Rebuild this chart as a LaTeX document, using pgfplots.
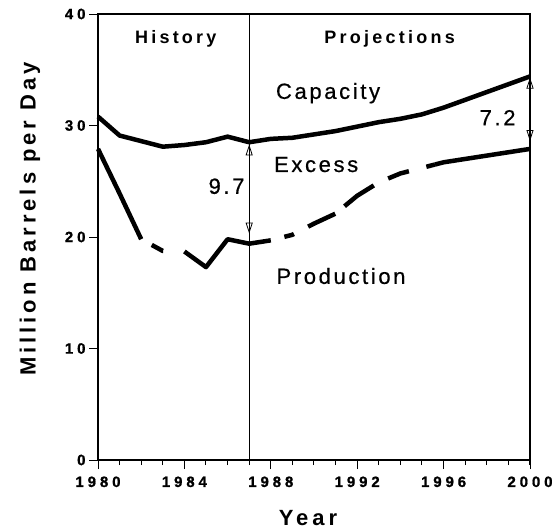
\documentclass[border=0pt]{standalone}
\usepackage{pgfplots}
\pgfplotsset{compat=1.18}
\usepackage{fontspec}
\setmainfont{Liberation Sans}
\newfontfamily\tickfont{Liberation Sans Bold}[LetterSpace=26, FakeBold=1]
\newfontfamily\labfont{Liberation Sans}[LetterSpace=12, FakeBold=0.6]
\newfontfamily\titfont{Liberation Sans}[LetterSpace=18]
\newcommand\tickfnt{\tickfont\fontsize{15bp}{15bp}\selectfont}
\newcommand\labfnt{\labfont\fontsize{22bp}{22bp}\selectfont}
\newcommand\hdrfnt{\titfont\bfseries\fontsize{18bp}{18bp}\selectfont}
\newcommand\titfnt{\titfont\bfseries\fontsize{22bp}{22bp}\selectfont}
\usetikzlibrary{arrows.meta}

\tikzset{
  curve/.style={black, line width=4.5bp, line join=round},
  lab/.style={font=\labfnt, inner sep=0pt},
  hdr/.style={font=\hdrfnt, inner sep=0pt},
}

\begin{document}
\begin{tikzpicture}
\begin{axis}[
    scale only axis,
    width=432bp, height=446bp,
    xmin=1980, xmax=2000, ymin=0, ymax=40,
    xtick={1980,1984,...,2000},
    minor xtick={1980,...,2000},
    ytick={0,10,20,30,40},
    xtick pos=bottom, ytick pos=left,
    tick align=outside,
    major tick length=9bp, minor tick length=5bp,
    tick style={line width=1pt, black},
    axis line style={line width=2.5bp},
    /pgf/number format/assume math mode=true,
    xticklabel style={/pgf/number format/1000 sep={}, font=\tickfnt, yshift=-4bp},
    yticklabel style={font=\tickfnt},
    clip=false,
]

%% separator History / Projections
\addplot[black, line width=0.8bp] coordinates {(1987,0) (1987,40)};

%% Capacity
\addplot[curve] coordinates {
    (1980,30.8) (1981,29.1) (1982,28.6) (1983,28.1) (1984,28.25)
    (1985,28.5) (1986,29.0) (1987,28.5) (1988,28.8) (1989,28.9)
    (1990,29.2) (1991,29.5) (1992,29.9) (1993,30.3) (1994,30.6)
    (1995,31.0) (1996,31.6) (1997,32.3) (1998,33.0) (1999,33.7)
    (2000,34.4)
};

%% Production, in pieces (solid / broken)
\addplot[curve] coordinates {(1980,27.9) (1981,23.9) (1982,19.8)};
\addplot[curve, dash pattern=on 0bp off 12bp on 13bp off 60bp] coordinates {
    (1982,19.8) (1983,18.75) (1984,18.7)};
\addplot[curve] coordinates {
    (1984,18.7) (1985,17.3) (1986,19.8) (1987,19.4) (1988,19.7)};
\addplot[curve, dash pattern=on 0bp off 14bp on 10bp off 16bp on 30bp off 12bp on 36bp off 16bp on 22bp off 18bp on 100bp]
    coordinates {
    (1988,19.7) (1989,20.2) (1990,21.2) (1991,22.1) (1992,23.7)
    (1993,24.9) (1994,25.7) (1995,26.2) (1995.6,26.5)};
\addplot[curve] coordinates {
    (1995.6,26.5) (1996,26.7) (1997,27.0) (1998,27.3) (1999,27.6) (2000,27.9)};

%% excess arrows
\addplot[black, line width=0.8bp, {Triangle[open, length=11bp, width=7bp]}-{Triangle[open, length=11bp, width=7bp]}]
    coordinates {(1987,20.3) (1987,28.3)};
\addplot[black, line width=0.8bp, {Triangle[open, length=11bp, width=7bp]}-{Triangle[open, length=11bp, width=7bp]}]
    coordinates {(2000,28.6) (2000,34.3)};

\node[hdr] at (axis cs:1983.6,37.8) {History};
\node[hdr] at (axis cs:1993.5,37.8) {Projections};
\node[lab] at (axis cs:1990.65,32.9) {Capacity};
\node[lab] at (axis cs:1990.1,26.5) {Excess};
\node[lab] at (axis cs:1991.25,16.5) {Production};
\node[lab] at (axis cs:1985.95,24.55) {9.7};
\node[lab] at (axis cs:1998.5,30.7) {7.2};
\end{axis}

\node[rotate=90, font=\titfnt]
    at ([xshift=-68bp, yshift=18bp]current axis.west) {Million Barrels per Day};
\node[font=\titfnt]
    at ([xshift=-6bp, yshift=-58bp]current axis.south) {Year};

\pgfresetboundingbox
\path ([shift={(-98bp,-71bp)}]current axis.south west) rectangle ++(555bp,531bp);
\end{tikzpicture}
\end{document}
